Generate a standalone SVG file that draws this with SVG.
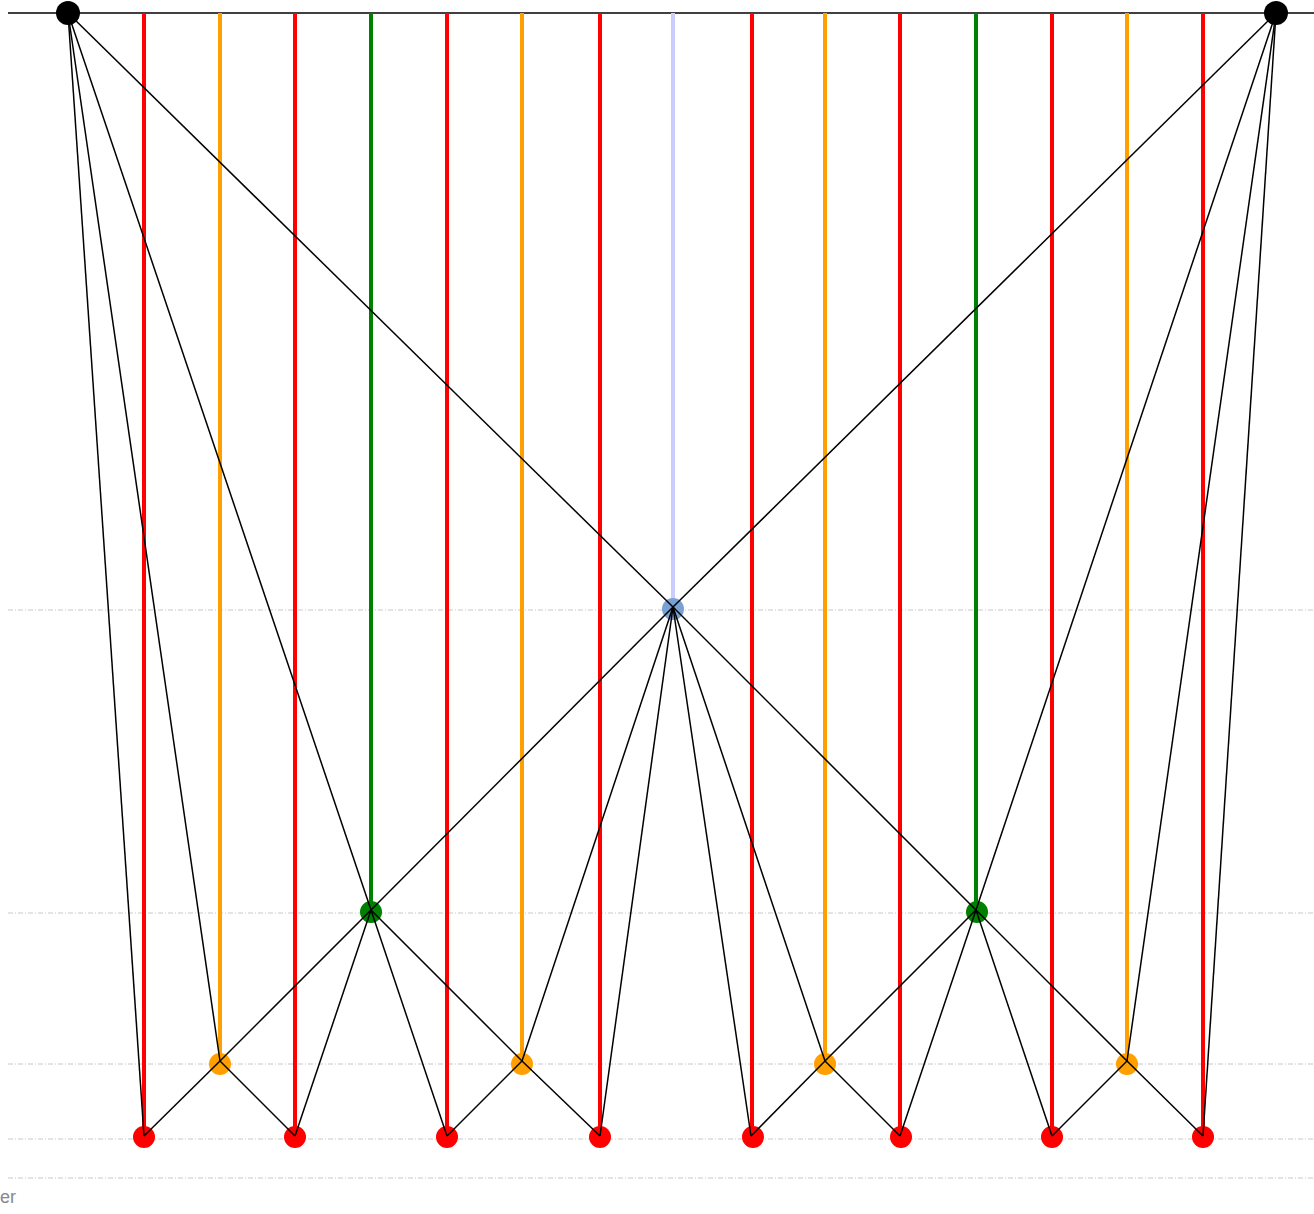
<svg xmlns="http://www.w3.org/2000/svg" width="1314" height="1214" viewBox="0 0 1314 1214">
<style>
.grid{stroke:#c8c8c8;stroke-width:1;stroke-dasharray:5,2,1,2;fill:none}
.v{stroke-width:4;fill:none}
.r{stroke:#ff0000}.o{stroke:#ffa000}.g{stroke:#008000}.b{stroke:#ccccff}
.e{stroke:#000;stroke-width:1.5;fill:none}
.nr{fill:#ff0000}.no{fill:#ffa000}.ng{fill:#008000}.nb{fill:#78a2d4}.nk{fill:#000}
</style>
<rect width="1314" height="1214" fill="#fff"/>
<g id="grid">
<line class="grid" x1="8" y1="610" x2="1314" y2="610"/>
<line class="grid" x1="8" y1="913" x2="1314" y2="913"/>
<line class="grid" x1="8" y1="1064" x2="1314" y2="1064"/>
<line class="grid" x1="8" y1="1139" x2="1314" y2="1139"/>
<line class="grid" x1="8" y1="1178" x2="1314" y2="1178"/>
</g>
<text x="0" y="1203" font-family="Liberation Sans, Arial, sans-serif" font-size="18" fill="#888888">er</text>
<line x1="8" y1="13" x2="1314" y2="13" stroke="#000" stroke-width="1.5"/>
<g id="verticals">
<line class="v r" x1="144" y1="13" x2="144" y2="1136"/>
<line class="v o" x1="220" y1="13" x2="220" y2="1061"/>
<line class="v r" x1="295" y1="13" x2="295" y2="1136"/>
<line class="v g" x1="371" y1="13" x2="371" y2="910"/>
<line class="v r" x1="447" y1="13" x2="447" y2="1136"/>
<line class="v o" x1="522" y1="13" x2="522" y2="1061"/>
<line class="v r" x1="600" y1="13" x2="600" y2="1136"/>
<line class="v b" x1="673" y1="13" x2="673" y2="607"/>
<line class="v r" x1="752" y1="13" x2="752" y2="1136"/>
<line class="v o" x1="825" y1="13" x2="825" y2="1061"/>
<line class="v r" x1="900" y1="13" x2="900" y2="1136"/>
<line class="v g" x1="976" y1="13" x2="976" y2="910"/>
<line class="v r" x1="1052" y1="13" x2="1052" y2="1136"/>
<line class="v o" x1="1127" y1="13" x2="1127" y2="1061"/>
<line class="v r" x1="1203" y1="13" x2="1203" y2="1136"/>
</g>
<g id="nodes">
<g id="root-left"><circle class="nk" cx="68" cy="13" r="12"/></g>
<g id="root-right"><circle class="nk" cx="1276" cy="13" r="12"/></g>
<g id="n-blue"><circle class="nb" cx="673" cy="609" r="11"/></g>
<g id="n-green1"><circle class="ng" cx="371" cy="912" r="11"/></g>
<g id="n-green2"><circle class="ng" cx="977" cy="912" r="11"/></g>
<g id="n-orange1"><circle class="no" cx="220" cy="1064" r="11"/></g>
<g id="n-orange2"><circle class="no" cx="522" cy="1064" r="11"/></g>
<g id="n-orange3"><circle class="no" cx="825" cy="1064" r="11"/></g>
<g id="n-orange4"><circle class="no" cx="1127" cy="1064" r="11"/></g>
<g id="n-red1"><circle class="nr" cx="144" cy="1137" r="11"/></g>
<g id="n-red2"><circle class="nr" cx="295" cy="1137" r="11"/></g>
<g id="n-red3"><circle class="nr" cx="447" cy="1137" r="11"/></g>
<g id="n-red4"><circle class="nr" cx="600" cy="1137" r="11"/></g>
<g id="n-red5"><circle class="nr" cx="753" cy="1137" r="11"/></g>
<g id="n-red6"><circle class="nr" cx="901" cy="1137" r="11"/></g>
<g id="n-red7"><circle class="nr" cx="1052" cy="1137" r="11"/></g>
<g id="n-red8"><circle class="nr" cx="1203" cy="1137" r="11"/></g>
</g>
<g id="connectors" class="e">
<line x1="68" y1="13" x2="144" y2="1136"/>
<line x1="68" y1="13" x2="220" y2="1061"/>
<line x1="68" y1="13" x2="371" y2="910"/>
<line x1="68" y1="13" x2="673" y2="607"/>
<line x1="1276" y1="13" x2="1203" y2="1136"/>
<line x1="1276" y1="13" x2="1127" y2="1061"/>
<line x1="1276" y1="13" x2="976" y2="910"/>
<line x1="1276" y1="13" x2="673" y2="607"/>
<line x1="673" y1="607" x2="371" y2="910"/>
<line x1="673" y1="607" x2="522" y2="1061"/>
<line x1="673" y1="607" x2="600" y2="1136"/>
<line x1="673" y1="607" x2="751" y2="1136"/>
<line x1="673" y1="607" x2="825" y2="1061"/>
<line x1="673" y1="607" x2="976" y2="910"/>
<line x1="371" y1="910" x2="220" y2="1061"/>
<line x1="371" y1="910" x2="295" y2="1136"/>
<line x1="371" y1="910" x2="447" y2="1136"/>
<line x1="371" y1="910" x2="522" y2="1061"/>
<line x1="220" y1="1061" x2="144" y2="1136"/>
<line x1="220" y1="1061" x2="295" y2="1136"/>
<line x1="522" y1="1061" x2="447" y2="1136"/>
<line x1="522" y1="1061" x2="600" y2="1136"/>
<line x1="976" y1="910" x2="825" y2="1061"/>
<line x1="976" y1="910" x2="900" y2="1136"/>
<line x1="976" y1="910" x2="1052" y2="1136"/>
<line x1="976" y1="910" x2="1127" y2="1061"/>
<line x1="825" y1="1061" x2="751" y2="1136"/>
<line x1="825" y1="1061" x2="900" y2="1136"/>
<line x1="1127" y1="1061" x2="1052" y2="1136"/>
<line x1="1127" y1="1061" x2="1203" y2="1136"/>
</g>
</svg>
